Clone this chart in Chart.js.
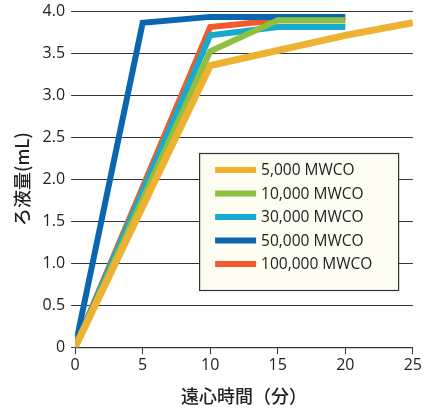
<!DOCTYPE html>
<html><head><meta charset="utf-8">
<script src="https://cdn.jsdelivr.net/npm/chart.js@4"></script>
<style>html,body{margin:0;padding:0;background:#fff}#w{width:424px;height:419px}</style>
</head><body><div id="w"><canvas id="c"></canvas></div>
<script>
const labels = ['5,000 MWCO','10,000 MWCO','30,000 MWCO','50,000 MWCO','100,000 MWCO'];
const colors = ['#EDB231','#8DC03F','#17AACF','#0B66B0','#F15A2B'];
const times5k = [0,10,20,25];
const vol5k = [0,3.35,3.71,3.86];
const times10k = [0,10,15,20];
const vol10k = [0,3.52,3.89,3.89];
const times30k = [0,10,15,20];
const vol30k = [0,3.71,3.81,3.81];
const times50k = [0,5,10,15,20];
const vol50k = [0,3.86,3.93,3.93,3.93];
const times100k = [0,10,15,20];
const vol100k = [0,3.81,3.89,3.89];
const xTicks = [0,5,10,15,20,25];
const yTicks = [0,0.5,1,1.5,2,2.5,3,3.5,4];

const series = [[times5k,vol5k],[times10k,vol10k],[times30k,vol30k],[times50k,vol50k],[times100k,vol100k]];
const datasets = series.map((s,i)=>({
  label: labels[i],
  data: s[0].map((t,j)=>({x:t,y:s[1][j]})),
  borderColor: colors[i], backgroundColor: colors[i],
  borderWidth: i===0?7:6, pointRadius:0, borderJoinStyle:'miter', tension:0, fill:false
}));

const boxLegend = {
  id:'boxLegend',
  afterDatasetsDraw(chart){
    const ctx = chart.ctx, a = chart.chartArea;
    const x0 = a.left+124, y0 = a.top+142, w = 199, h = 137;
    ctx.save();
    ctx.fillStyle = '#FDFDF1'; ctx.fillRect(x0,y0,w,h);
    ctx.strokeStyle = '#333'; ctx.lineWidth = 1.2; ctx.strokeRect(x0+0.5,y0+0.5,w,h);
    ctx.font = '15.5px "Open Sans", sans-serif';
    ctx.textBaseline = 'middle';
    chart.data.datasets.forEach((d,i)=>{
      const y = y0+17+i*23.5;
      ctx.fillStyle = d.borderColor; ctx.fillRect(x0+16,y-3,41,6);
      ctx.fillStyle = '#222'; ctx.fillText(d.label,x0+62,y+1);
    });
    ctx.restore();
  }
};

new Chart(document.getElementById('c'),{
  type:'line',
  data:{datasets},
  options:{
    responsive:true, maintainAspectRatio:false, animation:false,
    layout:{padding:{top:11,right:10,left:7,bottom:8}},
    plugins:{legend:{display:false},tooltip:{enabled:false}},
    scales:{
      x:{type:'linear',min:0,max:25,
        afterBuildTicks(s){s.ticks=xTicks.map(v=>({value:v}));},
        grid:{drawOnChartArea:false,drawTicks:true,tickLength:7,color:'#333',lineWidth:1},
        border:{display:true,color:'#333',width:1.2},
        ticks:{color:'#222',font:{size:16,family:'"Open Sans", sans-serif'},padding:2,maxRotation:0},
        title:{display:true,text:'遠心時間（分）',color:'#222',font:{size:18,family:'"Noto Sans CJK JP"',weight:'500'},padding:{top:8}}
      },
      y:{min:0,max:4,
        afterBuildTicks(s){s.ticks=yTicks.map(v=>({value:v}));},
        afterFit(s){s.paddingTop=0;},
        grid:{color:'#333',lineWidth:1,tickLength:4},
        border:{display:false},
        ticks:{color:'#222',font:{size:16,family:'"Open Sans", sans-serif'},padding:6,
          callback:v=>v===0?'0':v.toFixed(1)},
        title:{display:true,text:'ろ液量(mL)',color:'#222',font:{size:18,family:'"Noto Sans CJK JP"',weight:'500'},padding:{bottom:4}}
      }
    }
  },
  plugins:[boxLegend]
});
</script></body></html>
